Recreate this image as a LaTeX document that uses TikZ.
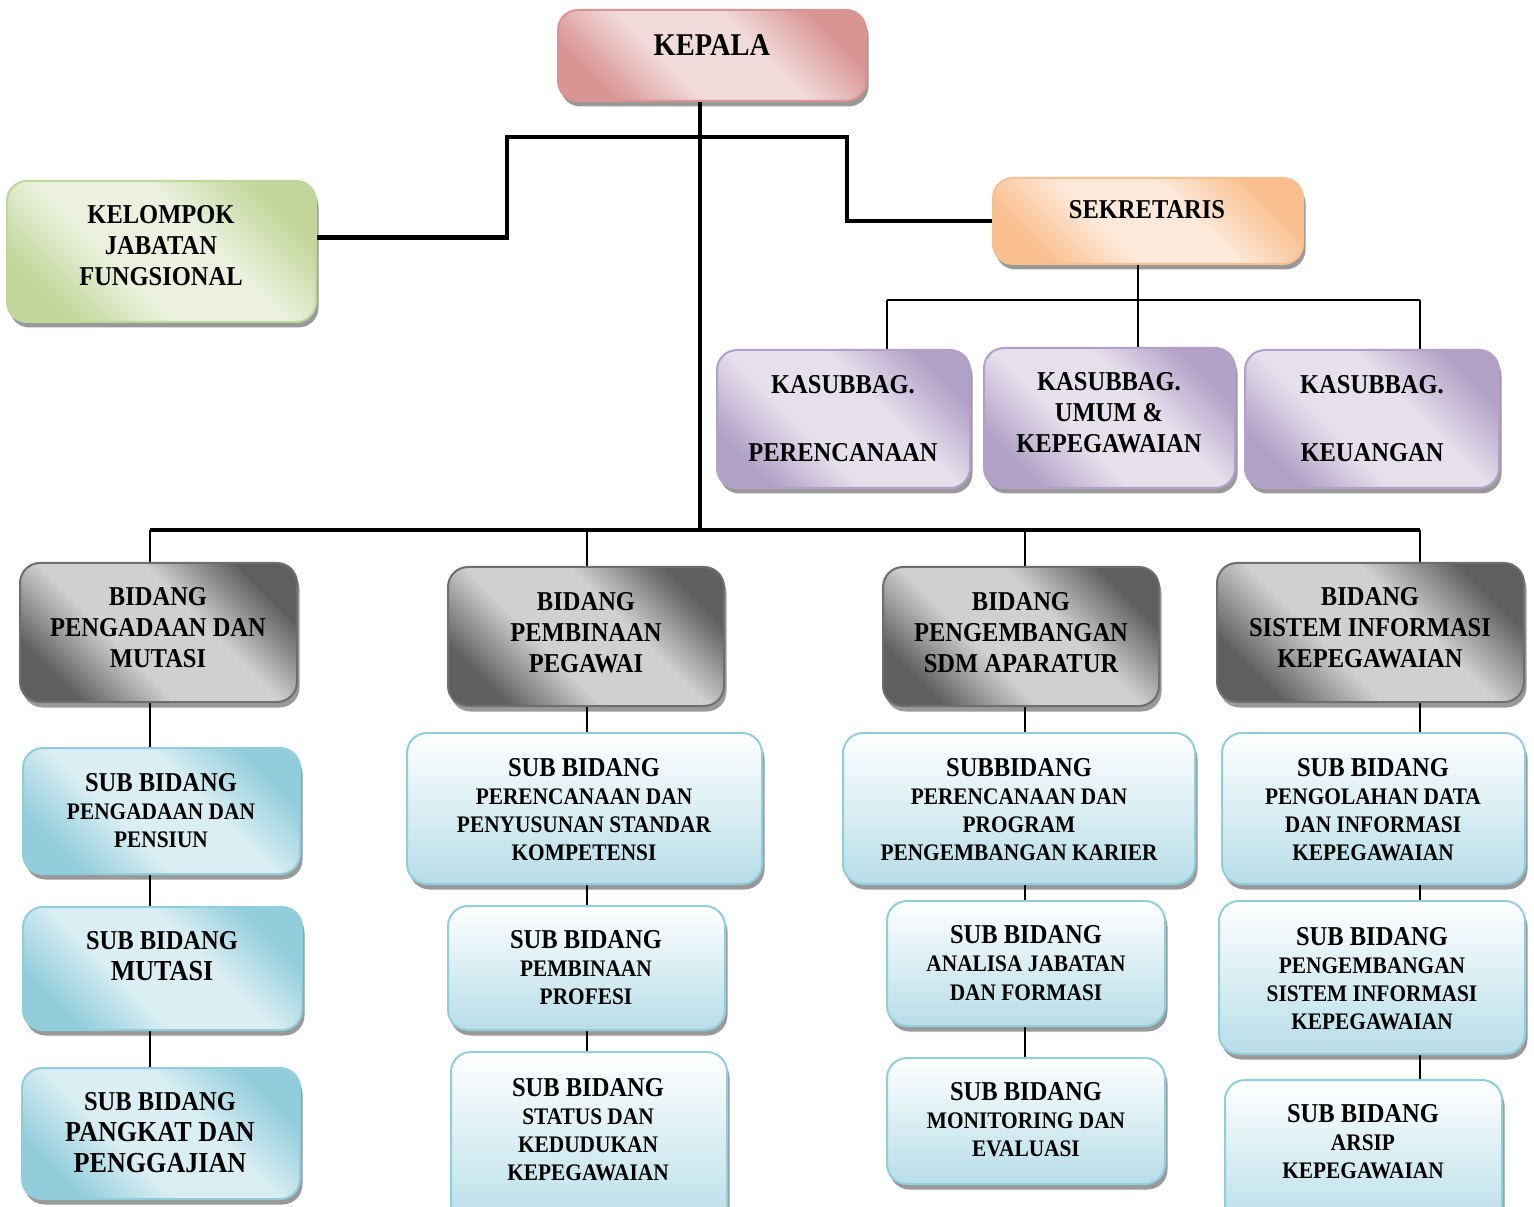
\documentclass[tikz,border=0pt]{standalone}
\usepackage{fontspec}
\setmainfont{Liberation Serif}[FakeStretch=0.9]
\usetikzlibrary{shadows,backgrounds,fit}

\definecolor{pinkdk}{HTML}{D99594}
\definecolor{pinklt}{HTML}{F2DBDB}
\definecolor{greendk}{HTML}{C2D69B}
\definecolor{greenlt}{HTML}{EBF1DE}
\definecolor{orangedk}{HTML}{FABF8F}
\definecolor{orangelt}{HTML}{FDE9D9}
\definecolor{purpledk}{HTML}{B2A1C7}
\definecolor{purplelt}{HTML}{E5E0EC}
\definecolor{graydk}{HTML}{5F5F5F}
\definecolor{graylt}{HTML}{D0D0D0}
\definecolor{grayln}{HTML}{6E6E6E}
\definecolor{bluedk}{HTML}{92CDDC}
\definecolor{bluelt}{HTML}{DAEEF3}
\definecolor{bluebot}{HTML}{B7DDE8}
\colorlet{shdk}{gray}
\colorlet{shlt}{white}

\pgfdeclareverticalshading[shdk,shlt]{band}{100bp}{color(0bp)=(shdk); color(25bp)=(shdk); color(41bp)=(shlt); color(59bp)=(shlt); color(75bp)=(shdk); color(100bp)=(shdk)}

\newcommand{\ftitle}{\fontsize{18}{21}\selectfont}
\newcommand{\fbig}{\fontsize{15.5}{17.6}\selectfont}
\newcommand{\flarge}{\fontsize{16.5}{17.6}\selectfont}
\newcommand{\fsmall}{\fontsize{13.5}{16}\selectfont}

\tikzset{
  box/.style={rounded corners=4mm, inner sep=0pt, line width=0.4mm,
    drop shadow={shadow xshift=0.5mm, shadow yshift=-1.1mm, fill=black, opacity=0.4}},
  diagbox/.style 2 args={box, draw=#1, /utils/exec={\colorlet{shdk}{#1}\colorlet{shlt}{#2}},
    shading=band, shading angle=135},
  graybox/.style={diagbox={graydk}{graylt}, draw=grayln},
  vertbox/.style={box, draw=bluedk, top color=white, bottom color=bluebot, middle color=bluelt},
  txt/.style={align=center, inner sep=0pt, font=\bfseries\fbig},
  subtxt/.style={txt, font=\bfseries\fsmall},
  trunk/.style={line width=0.9mm},
  twig/.style={line width=0.4mm}
}

\begin{document}
\begin{tikzpicture}[x=0.2mm, y=-0.2mm]
  \useasboundingbox (0,0) rectangle (1534,1207);
  \clip (0,0) rectangle (1534,1207);

  \coordinate (jl) at (507,137);
  \coordinate (jk) at (700,137);
  \coordinate (jr) at (847,137);
  \coordinate (ck) at (700,530);
  \coordinate (c1) at (150,530);
  \coordinate (c2) at (587,530);
  \coordinate (c3) at (1025,530);
  \coordinate (c4) at (1420,530);
  \coordinate (s1) at (887,300);
  \coordinate (s2) at (1138,300);
  \coordinate (s3) at (1420,300);

  % pimpinan
  \node[diagbox={pinkdk}{pinklt}, fit={(558,10) (866,101)}] (kepala) {};
  \node[txt, font=\bfseries\ftitle] (kepala-t) at (712,45) {KEPALA};
  \node[diagbox={greendk}{greenlt}, fit={(7,181) (316,322)}] (kelompok) {};
  \node[txt] (kelompok-t) at (161,246) {KELOMPOK\\JABATAN\\FUNGSIONAL};
  \node[diagbox={orangedk}{orangelt}, fit={(993,178) (1303,264)}] (sekretaris) {};
  \node[txt] (sekretaris-t) at (1147,210) {SEKRETARIS};

  % kasubbag
  \node[diagbox={purpledk}{purplelt}, fit={(717,350) (970,488)}] (kas1) {};
  \node[txt] (kas1-t) at (843,418.5) {KASUBBAG.\\[21pt]PERENCANAAN};
  \node[diagbox={purpledk}{purplelt}, fit={(984,348) (1235,488)}] (kas2) {};
  \node[txt] (kas2-t) at (1109,413) {KASUBBAG.\\UMUM \&\\KEPEGAWAIAN};
  \node[diagbox={purpledk}{purplelt}, fit={(1245,350) (1499,488)}] (kas3) {};
  \node[txt] (kas3-t) at (1372,418.5) {KASUBBAG.\\[21pt]KEUANGAN};

  % bidang
  \node[graybox, fit={(20,563) (297,702)}] (bid1) {};
  \node[txt] (bid1-t) at (158,628) {BIDANG\\PENGADAAN DAN\\MUTASI};
  \node[graybox, fit={(448,567) (724,706)}] (bid2) {};
  \node[txt] (bid2-t) at (586,632.5) {BIDANG\\PEMBINAAN\\PEGAWAI};
  \node[graybox, fit={(883,567) (1159,706)}] (bid3) {};
  \node[txt] (bid3-t) at (1021,632.5) {BIDANG\\PENGEMBANGAN\\SDM APARATUR};
  \node[graybox, fit={(1217,563) (1524,702)}] (bid4) {};
  \node[txt] (bid4-t) at (1370,628) {BIDANG\\SISTEM INFORMASI\\KEPEGAWAIAN};

  % sub bidang kolom 1
  \node[diagbox={bluedk}{bluelt}, fit={(23,748) (300,874)}] (sub11) {};
  \node[subtxt] (sub11-t) at (161,810.5) {{\fbig SUB BIDANG}\\PENGADAAN DAN\\PENSIUN};
  \node[diagbox={bluedk}{bluelt}, fit={(23,907) (302,1030)}] (sub12) {};
  \node[txt] (sub12-t) at (162,956) {SUB BIDANG\\{\flarge MUTASI}};
  \node[diagbox={bluedk}{bluelt}, fit={(22,1068) (300,1199)}] (sub13) {};
  \node[txt] (sub13-t) at (160,1133) {SUB BIDANG\\{\flarge PANGKAT DAN}\\{\flarge PENGGAJIAN}};

  % sub bidang kolom 2
  \node[vertbox, fit={(407,733) (762,884)}] (sub21) {};
  \node[subtxt] (sub21-t) at (584,809.5) {{\fbig SUB BIDANG}\\PERENCANAAN DAN\\PENYUSUNAN STANDAR\\KOMPETENSI};
  \node[vertbox, fit={(448,906) (725,1030)}] (sub22) {};
  \node[subtxt] (sub22-t) at (586,967.5) {{\fbig SUB BIDANG}\\PEMBINAAN\\PROFESI};
  \node[vertbox, fit={(451,1052) (727,1230)}] (sub23) {};
  \node[subtxt] (sub23-t) at (588,1129.5) {{\fbig SUB BIDANG}\\STATUS DAN\\KEDUDUKAN\\KEPEGAWAIAN};

  % sub bidang kolom 3
  \node[vertbox, fit={(843,733) (1195,884)}] (sub31) {};
  \node[subtxt] (sub31-t) at (1019,809.5) {{\fbig SUBBIDANG}\\PERENCANAAN DAN\\PROGRAM\\PENGEMBANGAN KARIER};
  \node[vertbox, fit={(887,901) (1165,1026)}] (sub32) {};
  \node[subtxt] (sub32-t) at (1026,963) {{\fbig SUB BIDANG}\\ANALISA JABATAN\\DAN FORMASI};
  \node[vertbox, fit={(887,1058) (1165,1184)}] (sub33) {};
  \node[subtxt] (sub33-t) at (1026,1120) {{\fbig SUB BIDANG}\\MONITORING DAN\\EVALUASI};

  % sub bidang kolom 4
  \node[vertbox, fit={(1222,733) (1525,884)}] (sub41) {};
  \node[subtxt] (sub41-t) at (1373,809.5) {{\fbig SUB BIDANG}\\PENGOLAHAN DATA\\DAN INFORMASI\\KEPEGAWAIAN};
  \node[vertbox, fit={(1219,901) (1525,1054)}] (sub42) {};
  \node[subtxt] (sub42-t) at (1372,978.5) {{\fbig SUB BIDANG}\\PENGEMBANGAN\\SISTEM INFORMASI\\KEPEGAWAIAN};
  \node[vertbox, fit={(1225,1080) (1502,1230)}] (sub43) {};
  \node[subtxt] (sub43-t) at (1363,1141.5) {{\fbig SUB BIDANG}\\ARSIP\\KEPEGAWAIAN};

  % garis
  \begin{scope}[on background layer]
    \draw[trunk] (kepala.south -| jk) -- (ck);
    \draw[trunk] ([yshift=2.8mm]kelompok.east) -| (jl) -- (jr) |- (sekretaris.west);
    \draw[trunk] (c1) -- (c4);

    \draw[twig] (sekretaris.south -| s2) -- (s2);
    \draw[twig] (s1) -- (s3);
    \draw[twig] (s1) -- (s1 |- kas1.north);
    \draw[twig] (s2) -- (s2 |- kas2.north);
    \draw[twig] (s3) -- (s3 |- kas3.north);

    \draw[twig] (c1) -- (c1 |- bid1.north);
    \draw[twig] (c2) -- (c2 |- bid2.north);
    \draw[twig] (c3) -- (c3 |- bid3.north);
    \draw[twig] (c4) -- (c4 |- bid4.north);

    \draw[twig] (bid1.south -| c1) -- (sub11.north -| c1);
    \draw[twig] (sub11.south -| c1) -- (sub12.north -| c1);
    \draw[twig] (sub12.south -| c1) -- (sub13.north -| c1);
    \draw[twig] (bid2.south -| c2) -- (sub21.north -| c2);
    \draw[twig] (sub21.south -| c2) -- (sub22.north -| c2);
    \draw[twig] (sub22.south -| c2) -- (sub23.north -| c2);
    \draw[twig] (bid3.south -| c3) -- (sub31.north -| c3);
    \draw[twig] (sub31.south -| c3) -- (sub32.north -| c3);
    \draw[twig] (sub32.south -| c3) -- (sub33.north -| c3);
    \draw[twig] (bid4.south -| c4) -- (sub41.north -| c4);
    \draw[twig] (sub41.south -| c4) -- (sub42.north -| c4);
    \draw[twig] (sub42.south -| c4) -- (sub43.north -| c4);
  \end{scope}
\end{tikzpicture}
\end{document}
